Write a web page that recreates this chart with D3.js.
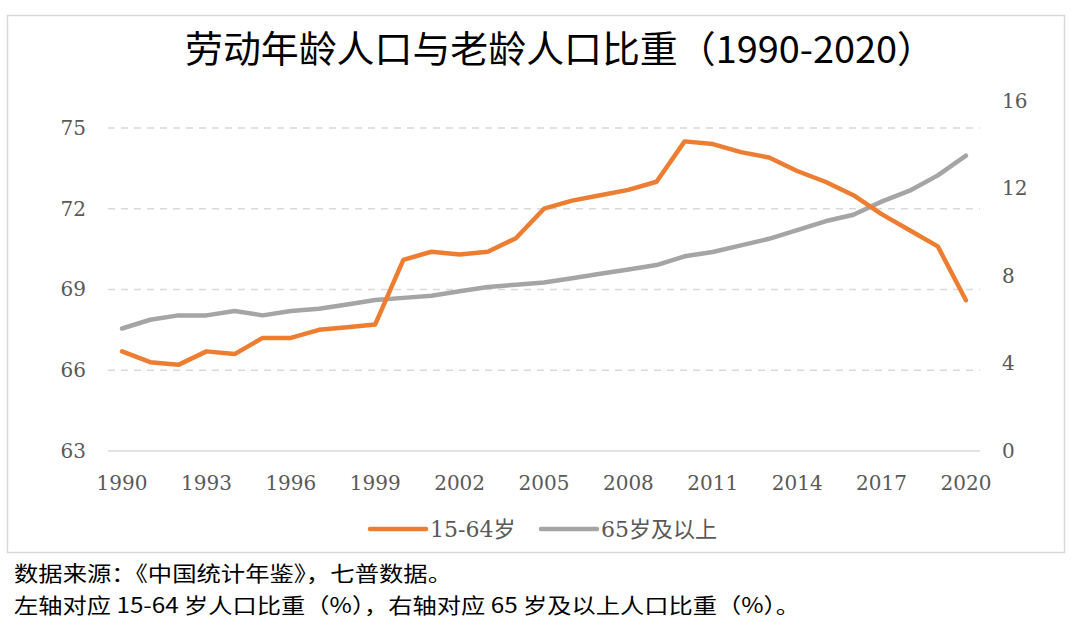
<!DOCTYPE html>
<html>
<head>
<meta charset="utf-8">
<script src="https://cdn.jsdelivr.net/npm/d3@7"></script>
<style>
  html, body { margin: 0; padding: 0; background: #fff; }
  svg { display: block; }
</style>
</head>
<body>
<svg id="chart" width="1080" height="635"></svg>
<script>
const years = d3.range(1990, 2021);
const working = [66.7, 66.3, 66.2, 66.7, 66.6, 67.2, 67.2, 67.5, 67.6, 67.7,
                 70.1, 70.4, 70.3, 70.4, 70.9, 72.0, 72.3, 72.5, 72.7, 73.0,
                 74.5, 74.4, 74.1, 73.9, 73.4, 73.0, 72.5, 71.8, 71.2, 70.6, 68.6];
const elderly = [5.6, 6.0, 6.2, 6.2, 6.4, 6.2, 6.4, 6.5, 6.7, 6.9,
                 7.0, 7.1, 7.3, 7.5, 7.6, 7.7, 7.9, 8.1, 8.3, 8.5,
                 8.9, 9.1, 9.4, 9.7, 10.1, 10.5, 10.8, 11.4, 11.9, 12.6, 13.5];
const xTickYears = [1990, 1993, 1996, 1999, 2002, 2005, 2008, 2011, 2014, 2017, 2020];
const leftTicks = [63, 66, 69, 72, 75];
const rightTicks = [0, 4, 8, 12, 16];
const seriesNames = ["15-64岁", "65岁及以上"];
const title = "劳动年龄人口与老龄人口比重（1990-2020）";
const notes = ["数据来源：《中国统计年鉴》，七普数据。",
               "左轴对应 15-64 岁人口比重（%），右轴对应 65 岁及以上人口比重（%）。"];

const svg = d3.select("#chart");
const plot = {left: 108, right: 980, top: 101, bottom: 451};
const orange = "#ED7D31", gray = "#A5A5A5";
const numFont = "'DejaVu Serif', 'Liberation Serif', serif";
const cjkFont = "'Noto Sans CJK SC', sans-serif";

// frame
svg.append("rect").attr("x", 7.5).attr("y", 15.5).attr("width", 1057).attr("height", 537)
  .attr("fill", "#fff").attr("stroke", "#D9D9D9").attr("stroke-width", 1.5);

// title
svg.append("text").attr("x", 185).attr("y", 63)
  .attr("font-family", cjkFont).attr("font-size", 37).attr("fill", "#000")
  .attr("textLength", 750).attr("lengthAdjust", "spacingAndGlyphs")
  .text(title);

const x = d3.scaleBand().domain(years).range([plot.left, plot.right]);
const xc = d => x(d) + x.bandwidth() / 2;
const yL = d3.scaleLinear().domain([63, 76]).range([plot.bottom, plot.top]);
const yR = d3.scaleLinear().domain([0, 16]).range([plot.bottom, plot.top]);

// gridlines
svg.append("g").selectAll("line").data(leftTicks.filter(t => t > 63)).join("line")
  .attr("x1", plot.left).attr("x2", plot.right)
  .attr("y1", d => yL(d)).attr("y2", d => yL(d))
  .attr("stroke", "#D9D9D9").attr("stroke-width", 1.5).attr("stroke-dasharray", "7,6");
svg.append("line").attr("x1", plot.left).attr("x2", plot.right)
  .attr("y1", yL(63)).attr("y2", yL(63))
  .attr("stroke", "#D9D9D9").attr("stroke-width", 1.5);

// axes
const leftAxis = svg.append("g").attr("transform", `translate(${plot.left - 22},0)`)
  .call(d3.axisLeft(yL).tickValues(leftTicks).tickSize(0).tickPadding(0));
const rightAxis = svg.append("g").attr("transform", `translate(${plot.right + 22},0)`)
  .call(d3.axisRight(yR).tickValues(rightTicks).tickSize(0).tickPadding(0));
const bottomAxis = svg.append("g").attr("transform", `translate(0,${plot.bottom + 22})`)
  .call(d3.axisBottom(x).tickValues(xTickYears).tickSize(0).tickPadding(0));
[leftAxis, rightAxis, bottomAxis].forEach(g => {
  g.select(".domain").remove();
  g.selectAll("text").attr("font-family", numFont).attr("font-size", 20).attr("fill", "#595959");
});
bottomAxis.selectAll("text").attr("dy", "0.85em");

// lines
const lineL = d3.line().x((d, i) => xc(years[i])).y(d => yL(d));
const lineR = d3.line().x((d, i) => xc(years[i])).y(d => yR(d));
svg.append("path").datum(elderly).attr("d", lineR).attr("fill", "none")
  .attr("stroke", gray).attr("stroke-width", 4.5).attr("stroke-linejoin", "round").attr("stroke-linecap", "round");
svg.append("path").datum(working).attr("d", lineL).attr("fill", "none")
  .attr("stroke", orange).attr("stroke-width", 4.5).attr("stroke-linejoin", "round").attr("stroke-linecap", "round");

// legend
const legendItems = [
  {name: seriesNames[0], color: orange, x: 370},
  {name: seriesNames[1], color: gray, x: 541}
];
const lg = svg.append("g");
legendItems.forEach(it => {
  lg.append("line").attr("x1", it.x).attr("x2", it.x + 56).attr("y1", 529).attr("y2", 529)
    .attr("stroke", it.color).attr("stroke-width", 4.5).attr("stroke-linecap", "round");
  lg.append("text").attr("x", it.x + 60).attr("y", 537)
    .attr("font-family", "'DejaVu Serif', 'Noto Sans CJK SC', serif").attr("font-size", 22).attr("fill", "#595959")
    .text(it.name);
});

// notes
svg.append("text").attr("x", 14).attr("y", 581).attr("font-family", cjkFont)
  .attr("font-size", 21).attr("fill", "#000")
  .attr("textLength", 438).attr("lengthAdjust", "spacingAndGlyphs").text(notes[0]);
svg.append("text").attr("x", 14).attr("y", 613).attr("font-family", cjkFont)
  .attr("font-size", 21).attr("fill", "#000")
  .attr("textLength", 786).attr("lengthAdjust", "spacingAndGlyphs").text(notes[1]);
</script>
</body>
</html>
